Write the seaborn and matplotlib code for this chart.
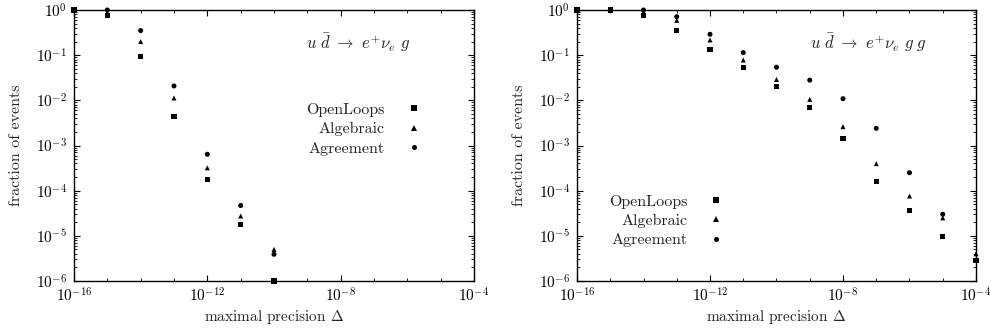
import numpy as np
import pandas as pd
import seaborn as sns
import matplotlib
matplotlib.use("Agg")
import matplotlib.pyplot as plt
from matplotlib.ticker import LogLocator, NullFormatter, FixedLocator

# ---- data ----
methods = ["OpenLoops", "Algebraic", "Agreement"]

x_left = [1e-16, 1e-15, 1e-14, 1e-13, 1e-12, 1e-11, 1e-10]
left_openloops = [1.0, 0.74, 0.094, 0.0043, 1.78e-4, 1.8e-5, 1.0e-6]
left_algebraic = [1.0, 0.87, 0.20, 0.0113, 3.2e-4, 2.75e-5, 5.0e-6]
left_agreement = [1.0, 1.0, 0.35, 0.0208, 6.4e-4, 4.7e-5, 3.9e-6]

x_right = [1e-16, 1e-15, 1e-14, 1e-13, 1e-12, 1e-11, 1e-10, 1e-9, 1e-8,
           1e-7, 1e-6, 1e-5, 1e-4]
right_openloops = [1.0, 1.0, 0.76, 0.36, 0.135, 0.054, 0.0204, 0.0070,
                   0.00144, 1.56e-4, 3.7e-5, 9.7e-6, 2.9e-6]
right_algebraic = [1.0, 1.0, 0.90, 0.59, 0.217, 0.078, 0.029, 0.0105,
                   0.00261, 3.96e-4, 7.6e-5, 2.5e-5, 4.0e-6]
right_agreement = [1.0, 1.0, 1.0, 0.71, 0.29, 0.114, 0.054, 0.028,
                   0.0109, 0.0024, 2.5e-4, 3.0e-5, 2.9e-6]

titles = [r"$u\ \bar{d}\ \rightarrow\ e^{+}\nu_e\ g$",
          r"$u\ \bar{d}\ \rightarrow\ e^{+}\nu_e\ g\ g$"]


def long_frame(x, ol, al, ag):
    rows = []
    for name, vals in zip(methods, [ol, al, ag]):
        for xi, yi in zip(x, vals):
            rows.append({"precision": xi, "fraction": yi, "method": name})
    return pd.DataFrame(rows)


df_left = long_frame(x_left, left_openloops, left_algebraic, left_agreement)
df_right = long_frame(x_right, right_openloops, right_algebraic, right_agreement)

# ---- style ----
sns.set_style("ticks")
plt.rcParams.update({
    "font.family": ["serif"],
    "font.serif": ["cmr10", "DejaVu Serif"],
    "mathtext.fontset": "cm",
    "axes.formatter.use_mathtext": True,
    "axes.unicode_minus": False,
    "axes.edgecolor": "black",
    "axes.linewidth": 1.0,
    "xtick.direction": "in",
    "ytick.direction": "in",
    "xtick.top": True,
    "ytick.right": True,
    "xtick.color": "black",
    "ytick.color": "black",
    "text.color": "#222222",
})

fig = plt.figure(figsize=(9.91, 3.34), dpi=100)
ax1 = fig.add_axes([74 / 991, 53 / 334, 400 / 991, 271 / 334])
ax2 = fig.add_axes([577 / 991, 53 / 334, 399 / 991, 271 / 334])

markers = {"OpenLoops": "s", "Algebraic": "^", "Agreement": "o"}
legend_pos = [(0.725, 0.56), (0.225, 0.222)]
title_pos = [(0.58, 0.878), (0.584, 0.878)]

for ax, df, title, lp, tp in zip([ax1, ax2], [df_left, df_right], titles,
                                  legend_pos, title_pos):
    sns.scatterplot(data=df, x="precision", y="fraction", style="method",
                    style_order=methods, markers=markers, color="black",
                    s=13, linewidth=0, ax=ax, clip_on=False, zorder=5)
    ax.set_xscale("log")
    ax.set_yscale("log")
    ax.set_xlim(1e-16, 1e-4)
    ax.set_ylim(1e-6, 1.0)
    ax.xaxis.set_major_locator(FixedLocator([1e-16, 1e-12, 1e-8, 1e-4]))
    ax.xaxis.set_minor_locator(FixedLocator([10.0 ** k for k in range(-16, -3)]))
    ax.xaxis.set_minor_formatter(NullFormatter())
    ax.yaxis.set_major_locator(LogLocator(base=10, numticks=10))
    ax.yaxis.set_minor_locator(LogLocator(base=10, subs=np.arange(2, 10), numticks=20))
    ax.yaxis.set_minor_formatter(NullFormatter())
    ax.tick_params(which="major", length=4, width=0.8, labelsize=11)
    ax.tick_params(axis="x", which="major", pad=4)
    ax.tick_params(axis="y", which="major", pad=5)
    ax.tick_params(which="minor", length=2.5, width=0.6)
    ax.set_xlabel(r"maximal precision $\Delta$", fontsize=11, labelpad=2)
    ax.set_ylabel("fraction of events", fontsize=11.5, labelpad=9)
    ax.text(tp[0], tp[1], title, transform=ax.transAxes, fontsize=12,
            ha="left", va="center")
    handles, labels = ax.get_legend_handles_labels()
    ax.legend(handles, labels, loc="center", bbox_to_anchor=lp,
              frameon=False, markerfirst=False, fontsize=11.5,
              handlelength=1.0, handletextpad=1.3, labelspacing=0.32,
              borderpad=0, markerscale=1.0)

fig.savefig("out.png", dpi=100)
